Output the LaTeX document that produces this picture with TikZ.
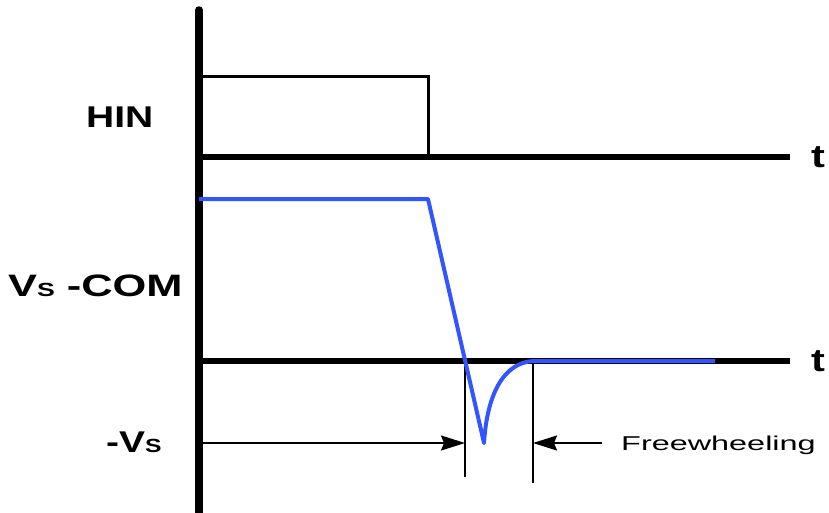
\documentclass[tikz,border=0pt]{standalone}
\usepackage{fontspec}
\setmainfont{Liberation Sans}
\newfontfamily\lab[FakeStretch=1.3]{Liberation Sans}
\newfontfamily\labw[FakeStretch=1.4]{Liberation Sans}
\newfontfamily\freelab[FakeStretch=1.62]{Liberation Sans}
\usetikzlibrary{arrows.meta}
\definecolor{wave}{RGB}{51,85,255}
\begin{document}
\begin{tikzpicture}[x=1pt,y=-1pt,
  axis/.style={line width=5.5pt},
  vaxis/.style={line width=7.5pt,line cap=round},
  sig/.style={line width=3pt,line join=miter},
  bluesig/.style={wave,line width=4pt,line join=round},
  marker/.style={line width=2.5pt},
  dim/.style={line width=1.8pt,-{Stealth[length=24pt,width=15pt,inset=3pt]}},
  lbl/.style={font=\lab\bfseries\fontsize{30}{30}\selectfont,inner sep=0pt,anchor=base west},
  wlbl/.style={font=\labw\bfseries\fontsize{31}{31}\selectfont,inner sep=0pt,anchor=base west},
  tlbl/.style={font=\lab\bfseries\fontsize{32}{32}\selectfont,inner sep=0pt,anchor=base west},
  fw/.style={font=\freelab\fontsize{20}{20}\selectfont,inner sep=0pt,anchor=base west}]
\useasboundingbox (0,0) rectangle (829,512);
% coordinates
\coordinate (top) at (199,10);
\coordinate (bot) at (199,518);
\coordinate (a1s) at (199,157);
\coordinate (a1e) at (790,157);
\coordinate (a2s) at (199,361);
\coordinate (a2e) at (790,361);
\coordinate (z1) at (465,361);
\coordinate (z1b) at (465,477);
\coordinate (z2) at (533,361);
\coordinate (z2b) at (533,483);
\coordinate (p1) at (199,76);
\coordinate (p2) at (428,76);
\coordinate (p3) at (428,157);
\coordinate (b1) at (199,199);
\coordinate (b2) at (428,199);
\coordinate (b3) at (484,443);
\coordinate (b4) at (715,361);
\coordinate (l1) at (199,443);
\coordinate (l2) at (465,443);
\coordinate (r1) at (602,443);
\coordinate (r2) at (533,443);
% axes
\draw[axis] (a1s) -- (a1e);
\draw[axis] (a2s) -- (a2e);
\draw[vaxis] (top) -- (bot);
% HIN pulse
\draw[sig] (p1) -- (p2) -- (p3);
% markers
\draw[marker] (z1) -- (z1b);
\draw[marker] (z2) -- (z2b);
% blue waveform
\draw[bluesig] (b1) -- (b2) -- (b3) .. controls (487,395) and (503,363) .. (z2) -- (b4);
% dimension arrows
\draw[dim] (l1) -- (l2);
\draw[dim] (r1) -- (r2);
% labels
\node[lbl] (hin) at (86,127) {HIN};
\node[wlbl] (vscom) at (8,296) {V{\fontsize{19}{19}\selectfont S} -COM};
\node[lbl] (mvs) at (106,452) {-V{\fontsize{19}{19}\selectfont S}};
\node[tlbl] (t1) at (811,167) {t};
\node[tlbl] (t2) at (811,371) {t};
\node[fw] (free) at (621,450) {Freewheeling};
\end{tikzpicture}
\end{document}
